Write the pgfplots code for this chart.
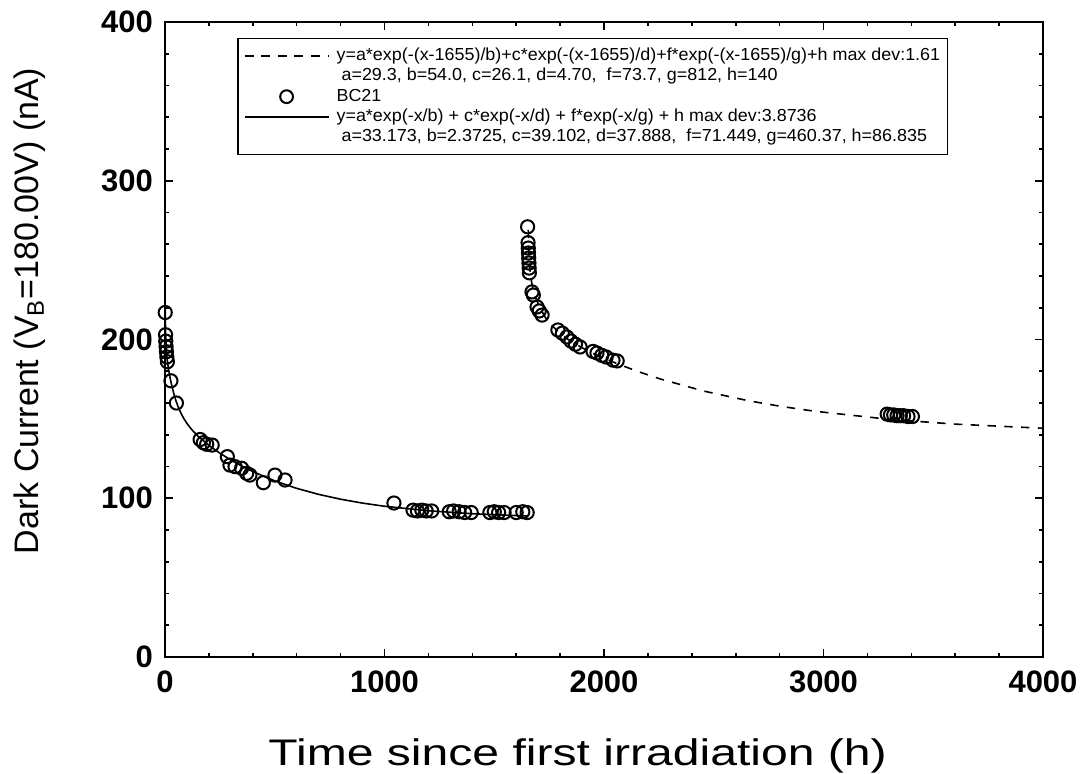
\documentclass[border=0pt]{standalone}
\usepackage{fontspec}
\setmainfont{Liberation Sans}
\newfontfamily\legfont[FakeStretch=1.03]{Liberation Sans}
\newfontfamily\xlabfont[FakeStretch=1.3]{Liberation Sans}
\usepackage{pgfplots}
\pgfplotsset{compat=1.18}
\begin{document}
\begin{tikzpicture}
\path[use as bounding box] (-82.5pt,-58pt) rectangle (462.5pt,328.5pt);
\begin{axis}[
  scale only axis, width=439pt, height=317.5pt,
  at={(0pt,0pt)}, anchor=south west,
  xmin=0, xmax=4000, ymin=0, ymax=400,
  xtick={0,1000,2000,3000,4000}, ytick={0,100,200,300,400},
  minor x tick num=4, minor y tick num=4,
  tick align=inside, tick pos=both,
  major tick length=4pt, minor tick length=2.2pt,
  axis line style={line width=1.2pt},
  every tick/.style={line width=0.8pt, black},
  ticklabel style={font=\bfseries\fontsize{15.5}{18}\selectfont},
  xticklabel style={yshift=-3.5pt},
  yticklabel style={xshift=-2.5pt},
  /pgf/number format/assume math mode=true,
  /pgf/number format/1000 sep={},
  xlabel={Time since first irradiation (h)},
  ylabel={Dark Current (V\textsubscript{B}=180.00V) (nA)},
  xlabel style={font=\xlabfont\fontsize{18.5}{21}\selectfont, at={(axis description cs:0.47,-0.155)}, anchor=center},
  ylabel style={font=\fontsize{17}{20}\selectfont, at={(axis description cs:-0.154,0.545)}, anchor=center},
  legend cell align=left,
  legend style={at={(0.082,0.975)}, anchor=north west, draw=black, line width=0.8pt,
    font=\legfont\fontsize{8.7}{9}\selectfont,
    nodes={inner sep=0.6pt, text height=6.2pt, text depth=1.8pt},
    row sep=1pt, column sep=3pt, inner xsep=3pt, inner ysep=4pt},
]
\addlegendimage{legend image code/.code={\draw[black, line width=0.8pt, dash pattern=on 4.5pt off 3.8pt] (0pt,0pt) -- (42pt,0pt);}}
\addlegendentry{y=a*exp(-(x-1655)/b)+c*exp(-(x-1655)/d)+f*exp(-(x-1655)/g)+h max dev:1.61}
\addlegendimage{legend image code/.code={}}
\addlegendentry{\ a=29.3, b=54.0, c=26.1, d=4.70, \ f=73.7, g=812, h=140}
\addlegendimage{legend image code/.code={\draw[black, line width=1pt] plot[mark=o, mark size=3.2pt, only marks] coordinates {(21pt,0pt)};}}
\addlegendentry{BC21}
\addlegendimage{legend image code/.code={\draw[black, line width=0.8pt] (0pt,0pt) -- (42pt,0pt);}}
\addlegendentry{y=a*exp(-x/b) + c*exp(-x/d) + f*exp(-x/g) + h max dev:3.8736}
\addlegendimage{legend image code/.code={}}
\addlegendentry{\ a=33.173, b=2.3725, c=39.102, d=37.888, \ f=71.449, g=460.37, h=86.835}

% fit 1 (solid)
\addplot[black, line width=0.8pt, forget plot] coordinates {
(0,230.56)(0.5,223.67)(1,217.97)(2,209.35)(3,203.3)(4,198.99)(5,195.8)(7,191.45)(10,187.27)
(15,182.37)(20,178.31)(25,174.72)(30,171.50)(40,165.95)(50,161.38)(60,157.58)(70,154.37)
(85,150.39)(100,147.13)(120,143.53)(150,139.17)(200,133.31)(250,128.4)(300,124.09)
(350,120.25)(400,116.80)(500,110.95)(600,106.24)(700,102.45)(800,99.40)(900,96.95)
(1000,94.97)(1200,92.11)(1400,90.25)(1650,88.82)};
% fit 2 (dashed)
\addplot[black, line width=0.8pt, dash pattern=on 4.2pt off 4.2pt, forget plot] coordinates {
(1655,269.1)(1656,263.5)(1657,258.8)(1660,249.0)(1665,240.3)(1675,232.5)(1690,225.9)
(1705,220.9)(1730,214.5)(1755,209.8)(1805,203.1)(1855,198.3)(1905,194.46)(1955,191.0)
(2055,185.05)(2155,179.8)(2255,175.2)(2455,167.5)(2655,161.5)(2805,157.9)(2955,154.9)
(3300,149.7)(3600,146.7)(4000,144.1)};
% data BC21
\addplot[black, only marks, mark=o, mark size=3.3pt, line width=1pt, forget plot] coordinates {
(1,217)(2.5,203)(3.5,199)(5,195.5)(6.5,192.3)(8.5,189)(11,186)(27,174)(52,160)
(160,137)(175,135)(190,134)(215,133.5)
(284,126.2)(296,120.9)(319,119.9)(349,118.9)(372,115.7)(387,114.6)
(448,109.8)(501,114.6)(547,111.5)
(1043,97)(1130,92.5)(1150,92)(1170,92.5)(1190,92)(1215,92)
(1295,91.5)(1315,92)(1340,91.5)(1365,91)(1395,91)
(1480,91)(1500,91.5)(1520,91)(1545,91)(1600,91)(1630,91.5)(1650,91)
(1652,271)(1654,261)(1655,257.6)(1656,254.5)(1657,251.3)(1658,248.2)(1659,245)(1660,242)
(1672,230)(1678,228)(1695,220.5)(1705,218)(1718,215.4)
(1790,206)(1810,204)(1831,201.6)(1850,199)(1870,197)(1891,195.3)
(1950,192.5)(1968,191.5)(1990,190)(2010,189)(2041,187)(2060,186.5)
(3290,153)(3305,152.5)(3320,152.5)(3335,152)(3350,152)(3365,152)(3385,151.5)(3405,151.5)};
\end{axis}
\end{tikzpicture}
\end{document}
